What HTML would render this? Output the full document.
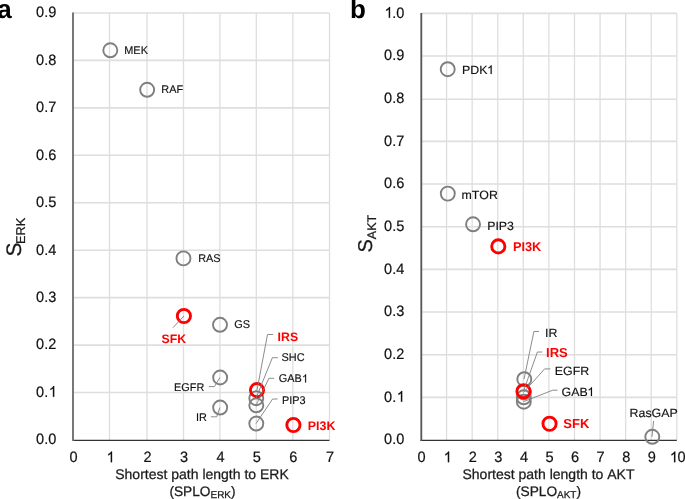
<!DOCTYPE html><html><head><meta charset="utf-8"><style>html,body{margin:0;padding:0;background:#fff;}svg{display:block;will-change:transform;}text{font-family:"Liberation Sans",sans-serif;font-kerning:none;text-rendering:geometricPrecision;}</style></head><body>
<svg width="685" height="499" viewBox="0 0 685 499">
<rect width="685" height="499" fill="#fff"/>
<line x1="73.0" y1="392.55" x2="329.5" y2="392.55" stroke="#dedede" stroke-width="1.6"/>
<line x1="73.0" y1="345.10" x2="329.5" y2="345.10" stroke="#dedede" stroke-width="1.6"/>
<line x1="73.0" y1="297.65" x2="329.5" y2="297.65" stroke="#dedede" stroke-width="1.6"/>
<line x1="73.0" y1="250.20" x2="329.5" y2="250.20" stroke="#dedede" stroke-width="1.6"/>
<line x1="73.0" y1="202.75" x2="329.5" y2="202.75" stroke="#dedede" stroke-width="1.6"/>
<line x1="73.0" y1="155.30" x2="329.5" y2="155.30" stroke="#dedede" stroke-width="1.6"/>
<line x1="73.0" y1="107.85" x2="329.5" y2="107.85" stroke="#dedede" stroke-width="1.6"/>
<line x1="73.0" y1="60.40" x2="329.5" y2="60.40" stroke="#dedede" stroke-width="1.6"/>
<line x1="73.0" y1="12.95" x2="329.5" y2="12.95" stroke="#dedede" stroke-width="1.6"/>
<line x1="109.50" y1="12.95" x2="109.50" y2="440.0" stroke="#dedede" stroke-width="1.3"/>
<line x1="147.00" y1="12.95" x2="147.00" y2="440.0" stroke="#dedede" stroke-width="1.3"/>
<line x1="183.50" y1="12.95" x2="183.50" y2="440.0" stroke="#dedede" stroke-width="1.3"/>
<line x1="219.90" y1="12.95" x2="219.90" y2="440.0" stroke="#dedede" stroke-width="1.3"/>
<line x1="256.30" y1="12.95" x2="256.30" y2="440.0" stroke="#dedede" stroke-width="1.3"/>
<line x1="292.80" y1="12.95" x2="292.80" y2="440.0" stroke="#dedede" stroke-width="1.3"/>
<line x1="329.50" y1="12.95" x2="329.50" y2="440.0" stroke="#dedede" stroke-width="1.3"/>
<line x1="72.5" y1="440.4" x2="329.50" y2="440.4" stroke="#333" stroke-width="1.2"/>
<line x1="73.0" y1="12.45" x2="73.0" y2="440.9" stroke="#777" stroke-width="2.0"/>
<line x1="421.0" y1="397.34" x2="676.8" y2="397.34" stroke="#dedede" stroke-width="1.6"/>
<line x1="421.0" y1="354.68" x2="676.8" y2="354.68" stroke="#dedede" stroke-width="1.6"/>
<line x1="421.0" y1="312.02" x2="676.8" y2="312.02" stroke="#dedede" stroke-width="1.6"/>
<line x1="421.0" y1="269.36" x2="676.8" y2="269.36" stroke="#dedede" stroke-width="1.6"/>
<line x1="421.0" y1="226.70" x2="676.8" y2="226.70" stroke="#dedede" stroke-width="1.6"/>
<line x1="421.0" y1="184.04" x2="676.8" y2="184.04" stroke="#dedede" stroke-width="1.6"/>
<line x1="421.0" y1="141.38" x2="676.8" y2="141.38" stroke="#dedede" stroke-width="1.6"/>
<line x1="421.0" y1="99.30" x2="676.8" y2="99.30" stroke="#dedede" stroke-width="1.6"/>
<line x1="421.0" y1="56.06" x2="676.8" y2="56.06" stroke="#dedede" stroke-width="1.6"/>
<line x1="421.0" y1="13.40" x2="676.8" y2="13.40" stroke="#dedede" stroke-width="1.6"/>
<line x1="446.58" y1="13.40" x2="446.58" y2="440.0" stroke="#dedede" stroke-width="1.3"/>
<line x1="472.16" y1="13.40" x2="472.16" y2="440.0" stroke="#dedede" stroke-width="1.3"/>
<line x1="497.74" y1="13.40" x2="497.74" y2="440.0" stroke="#dedede" stroke-width="1.3"/>
<line x1="523.32" y1="13.40" x2="523.32" y2="440.0" stroke="#dedede" stroke-width="1.3"/>
<line x1="548.90" y1="13.40" x2="548.90" y2="440.0" stroke="#dedede" stroke-width="1.3"/>
<line x1="574.48" y1="13.40" x2="574.48" y2="440.0" stroke="#dedede" stroke-width="1.3"/>
<line x1="600.06" y1="13.40" x2="600.06" y2="440.0" stroke="#dedede" stroke-width="1.3"/>
<line x1="625.64" y1="13.40" x2="625.64" y2="440.0" stroke="#dedede" stroke-width="1.3"/>
<line x1="651.22" y1="13.40" x2="651.22" y2="440.0" stroke="#dedede" stroke-width="1.3"/>
<line x1="676.80" y1="13.40" x2="676.80" y2="440.0" stroke="#dedede" stroke-width="1.3"/>
<line x1="420.5" y1="440.4" x2="676.80" y2="440.4" stroke="#333" stroke-width="1.2"/>
<line x1="421.3" y1="12.90" x2="421.3" y2="440.9" stroke="#555" stroke-width="1.8"/>
<g transform="translate(56.30,444.30) scale(0.97,1.0) translate(-56.30,-444.30)">
<text x="35.45" y="444.30" font-size="15" fill="#111" stroke="#111" stroke-width="0.2">0.0</text>
</g>
<g transform="translate(56.30,396.85) scale(0.97,1.0) translate(-56.30,-396.85)">
<text x="35.45" y="396.85" font-size="15" fill="#111" stroke="#111" stroke-width="0.2">0.</text>
<path d="M763,0 L583,0 L583,1147 Q518,1085 415,1024.5 Q312,964 223,931 L223,1105 Q374,1176 485,1275 Q596,1374 635,1466 L763,1466 Z" fill="#111" stroke="#111" stroke-width="27.3" transform="translate(48.56,396.85) scale(0.007324,-0.007324)"/>
</g>
<g transform="translate(56.30,349.40) scale(0.97,1.0) translate(-56.30,-349.40)">
<text x="35.45" y="349.40" font-size="15" fill="#111" stroke="#111" stroke-width="0.2">0.2</text>
</g>
<g transform="translate(56.30,301.95) scale(0.97,1.0) translate(-56.30,-301.95)">
<text x="35.45" y="301.95" font-size="15" fill="#111" stroke="#111" stroke-width="0.2">0.3</text>
</g>
<g transform="translate(56.30,254.50) scale(0.97,1.0) translate(-56.30,-254.50)">
<text x="35.45" y="254.50" font-size="15" fill="#111" stroke="#111" stroke-width="0.2">0.4</text>
</g>
<g transform="translate(56.30,207.05) scale(0.97,1.0) translate(-56.30,-207.05)">
<text x="35.45" y="207.05" font-size="15" fill="#111" stroke="#111" stroke-width="0.2">0.5</text>
</g>
<g transform="translate(56.30,159.60) scale(0.97,1.0) translate(-56.30,-159.60)">
<text x="35.45" y="159.60" font-size="15" fill="#111" stroke="#111" stroke-width="0.2">0.6</text>
</g>
<g transform="translate(56.30,112.15) scale(0.97,1.0) translate(-56.30,-112.15)">
<text x="35.45" y="112.15" font-size="15" fill="#111" stroke="#111" stroke-width="0.2">0.7</text>
</g>
<g transform="translate(56.30,64.70) scale(0.97,1.0) translate(-56.30,-64.70)">
<text x="35.45" y="64.70" font-size="15" fill="#111" stroke="#111" stroke-width="0.2">0.8</text>
</g>
<g transform="translate(56.30,17.25) scale(0.97,1.0) translate(-56.30,-17.25)">
<text x="35.45" y="17.25" font-size="15" fill="#111" stroke="#111" stroke-width="0.2">0.9</text>
</g>
<g transform="translate(404.30,444.30) scale(0.97,1.0) translate(-404.30,-444.30)">
<text x="383.45" y="444.30" font-size="15" fill="#111" stroke="#111" stroke-width="0.2">0.0</text>
</g>
<g transform="translate(404.30,401.64) scale(0.97,1.0) translate(-404.30,-401.64)">
<text x="383.45" y="401.64" font-size="15" fill="#111" stroke="#111" stroke-width="0.2">0.</text>
<path d="M763,0 L583,0 L583,1147 Q518,1085 415,1024.5 Q312,964 223,931 L223,1105 Q374,1176 485,1275 Q596,1374 635,1466 L763,1466 Z" fill="#111" stroke="#111" stroke-width="27.3" transform="translate(396.56,401.64) scale(0.007324,-0.007324)"/>
</g>
<g transform="translate(404.30,358.98) scale(0.97,1.0) translate(-404.30,-358.98)">
<text x="383.45" y="358.98" font-size="15" fill="#111" stroke="#111" stroke-width="0.2">0.2</text>
</g>
<g transform="translate(404.30,316.32) scale(0.97,1.0) translate(-404.30,-316.32)">
<text x="383.45" y="316.32" font-size="15" fill="#111" stroke="#111" stroke-width="0.2">0.3</text>
</g>
<g transform="translate(404.30,273.66) scale(0.97,1.0) translate(-404.30,-273.66)">
<text x="383.45" y="273.66" font-size="15" fill="#111" stroke="#111" stroke-width="0.2">0.4</text>
</g>
<g transform="translate(404.30,231.00) scale(0.97,1.0) translate(-404.30,-231.00)">
<text x="383.45" y="231.00" font-size="15" fill="#111" stroke="#111" stroke-width="0.2">0.5</text>
</g>
<g transform="translate(404.30,188.34) scale(0.97,1.0) translate(-404.30,-188.34)">
<text x="383.45" y="188.34" font-size="15" fill="#111" stroke="#111" stroke-width="0.2">0.6</text>
</g>
<g transform="translate(404.30,145.68) scale(0.97,1.0) translate(-404.30,-145.68)">
<text x="383.45" y="145.68" font-size="15" fill="#111" stroke="#111" stroke-width="0.2">0.7</text>
</g>
<g transform="translate(404.30,103.02) scale(0.97,1.0) translate(-404.30,-103.02)">
<text x="383.45" y="103.02" font-size="15" fill="#111" stroke="#111" stroke-width="0.2">0.8</text>
</g>
<g transform="translate(404.30,60.36) scale(0.97,1.0) translate(-404.30,-60.36)">
<text x="383.45" y="60.36" font-size="15" fill="#111" stroke="#111" stroke-width="0.2">0.9</text>
</g>
<g transform="translate(404.30,17.70) scale(0.97,1.0) translate(-404.30,-17.70)">
<path d="M763,0 L583,0 L583,1147 Q518,1085 415,1024.5 Q312,964 223,931 L223,1105 Q374,1176 485,1275 Q596,1374 635,1466 L763,1466 Z" fill="#111" stroke="#111" stroke-width="27.3" transform="translate(384.05,17.70) scale(0.007324,-0.007324)"/>
<text x="391.79" y="17.70" font-size="15" fill="#111" stroke="#111" stroke-width="0.2">.0</text>
</g>
<g transform="translate(73.60,462.20) scale(0.97,1.0) translate(-73.60,-462.20)">
<text x="69.43" y="462.20" font-size="15" fill="#111" stroke="#111" stroke-width="0.2">0</text>
</g>
<g transform="translate(110.10,462.20) scale(0.97,1.0) translate(-110.10,-462.20)">
<path d="M763,0 L583,0 L583,1147 Q518,1085 415,1024.5 Q312,964 223,931 L223,1105 Q374,1176 485,1275 Q596,1374 635,1466 L763,1466 Z" fill="#111" stroke="#111" stroke-width="27.3" transform="translate(106.53,462.20) scale(0.007324,-0.007324)"/>
</g>
<g transform="translate(147.60,462.20) scale(0.97,1.0) translate(-147.60,-462.20)">
<text x="143.43" y="462.20" font-size="15" fill="#111" stroke="#111" stroke-width="0.2">2</text>
</g>
<g transform="translate(184.10,462.20) scale(0.97,1.0) translate(-184.10,-462.20)">
<text x="179.93" y="462.20" font-size="15" fill="#111" stroke="#111" stroke-width="0.2">3</text>
</g>
<g transform="translate(220.50,462.20) scale(0.97,1.0) translate(-220.50,-462.20)">
<text x="216.33" y="462.20" font-size="15" fill="#111" stroke="#111" stroke-width="0.2">4</text>
</g>
<g transform="translate(256.90,462.20) scale(0.97,1.0) translate(-256.90,-462.20)">
<text x="252.73" y="462.20" font-size="15" fill="#111" stroke="#111" stroke-width="0.2">5</text>
</g>
<g transform="translate(293.40,462.20) scale(0.97,1.0) translate(-293.40,-462.20)">
<text x="289.23" y="462.20" font-size="15" fill="#111" stroke="#111" stroke-width="0.2">6</text>
</g>
<g transform="translate(330.10,462.20) scale(0.97,1.0) translate(-330.10,-462.20)">
<text x="325.93" y="462.20" font-size="15" fill="#111" stroke="#111" stroke-width="0.2">7</text>
</g>
<g transform="translate(421.60,462.20) scale(0.97,1.0) translate(-421.60,-462.20)">
<text x="417.43" y="462.20" font-size="15" fill="#111" stroke="#111" stroke-width="0.2">0</text>
</g>
<g transform="translate(447.18,462.20) scale(0.97,1.0) translate(-447.18,-462.20)">
<path d="M763,0 L583,0 L583,1147 Q518,1085 415,1024.5 Q312,964 223,931 L223,1105 Q374,1176 485,1275 Q596,1374 635,1466 L763,1466 Z" fill="#111" stroke="#111" stroke-width="27.3" transform="translate(443.61,462.20) scale(0.007324,-0.007324)"/>
</g>
<g transform="translate(472.76,462.20) scale(0.97,1.0) translate(-472.76,-462.20)">
<text x="468.59" y="462.20" font-size="15" fill="#111" stroke="#111" stroke-width="0.2">2</text>
</g>
<g transform="translate(498.34,462.20) scale(0.97,1.0) translate(-498.34,-462.20)">
<text x="494.17" y="462.20" font-size="15" fill="#111" stroke="#111" stroke-width="0.2">3</text>
</g>
<g transform="translate(523.92,462.20) scale(0.97,1.0) translate(-523.92,-462.20)">
<text x="519.75" y="462.20" font-size="15" fill="#111" stroke="#111" stroke-width="0.2">4</text>
</g>
<g transform="translate(549.50,462.20) scale(0.97,1.0) translate(-549.50,-462.20)">
<text x="545.33" y="462.20" font-size="15" fill="#111" stroke="#111" stroke-width="0.2">5</text>
</g>
<g transform="translate(575.08,462.20) scale(0.97,1.0) translate(-575.08,-462.20)">
<text x="570.91" y="462.20" font-size="15" fill="#111" stroke="#111" stroke-width="0.2">6</text>
</g>
<g transform="translate(600.66,462.20) scale(0.97,1.0) translate(-600.66,-462.20)">
<text x="596.49" y="462.20" font-size="15" fill="#111" stroke="#111" stroke-width="0.2">7</text>
</g>
<g transform="translate(626.24,462.20) scale(0.97,1.0) translate(-626.24,-462.20)">
<text x="622.07" y="462.20" font-size="15" fill="#111" stroke="#111" stroke-width="0.2">8</text>
</g>
<g transform="translate(651.82,462.20) scale(0.97,1.0) translate(-651.82,-462.20)">
<text x="647.65" y="462.20" font-size="15" fill="#111" stroke="#111" stroke-width="0.2">9</text>
</g>
<g transform="translate(677.40,462.20) scale(0.97,1.0) translate(-677.40,-462.20)">
<path d="M763,0 L583,0 L583,1147 Q518,1085 415,1024.5 Q312,964 223,931 L223,1105 Q374,1176 485,1275 Q596,1374 635,1466 L763,1466 Z" fill="#111" stroke="#111" stroke-width="27.3" transform="translate(669.66,462.20) scale(0.007324,-0.007324)"/>
<text x="677.40" y="462.20" font-size="15" fill="#111" stroke="#111" stroke-width="0.2">0</text>
</g>
<text x="202" y="479" text-anchor="middle" font-size="14" fill="#1a1a1a" stroke="#1a1a1a" stroke-width="0.25">Shortest path length to ERK</text>
<text x="202.5" y="496" text-anchor="middle" font-size="13.7" fill="#1a1a1a" stroke="#1a1a1a" stroke-width="0.25">(SPLO<tspan font-size="10" dy="2">ERK</tspan><tspan dy="-2">)</tspan></text>
<text x="548.5" y="479" text-anchor="middle" font-size="14" fill="#1a1a1a" stroke="#1a1a1a" stroke-width="0.25">Shortest path length to AKT</text>
<text x="548.5" y="496" text-anchor="middle" font-size="13.7" fill="#1a1a1a" stroke="#1a1a1a" stroke-width="0.25">(SPLO<tspan font-size="10" dy="2">AKT</tspan><tspan dy="-2">)</tspan></text>
<text transform="translate(20.8,256.6) rotate(-90)" font-size="21" fill="#1a1a1a" stroke="#1a1a1a" stroke-width="0.25">S<tspan font-size="12.8" dx="-1.4" dy="4.3">ERK</tspan></text>
<text transform="translate(372.4,252.5) rotate(-90)" font-size="20" fill="#1a1a1a" stroke="#1a1a1a" stroke-width="0.25">S<tspan font-size="12.5" dy="3.5">AKT</tspan></text>
<text x="-2.7" y="17.9" font-size="26" font-weight="bold" fill="#000">a</text>
<text x="350" y="18.2" font-size="26" font-weight="bold" fill="#000">b</text>
<circle cx="110.30" cy="50.3" r="7.0" fill="none" stroke="#7f7f7f" stroke-width="1.9"/>
<g transform="translate(124.30,53.80) scale(1.0,1.03) translate(-124.30,-53.80)">
<text x="124.30" y="53.80" font-size="10.9" fill="#111" stroke="#111" stroke-width="0.15">MEK</text>
</g>
<circle cx="147.15" cy="89.8" r="7.0" fill="none" stroke="#7f7f7f" stroke-width="1.9"/>
<g transform="translate(161.30,93.30) scale(1.0,1.03) translate(-161.30,-93.30)">
<text x="161.30" y="93.30" font-size="10.9" fill="#111" stroke="#111" stroke-width="0.15">RAF</text>
</g>
<circle cx="183.45" cy="258.4" r="7.0" fill="none" stroke="#7f7f7f" stroke-width="1.9"/>
<g transform="translate(198.20,261.60) scale(1.0,1.03) translate(-198.20,-261.60)">
<text x="198.20" y="261.60" font-size="10.9" fill="#111" stroke="#111" stroke-width="0.15">RAS</text>
</g>
<circle cx="220.00" cy="324.8" r="7.0" fill="none" stroke="#7f7f7f" stroke-width="1.9"/>
<g transform="translate(234.20,328.10) scale(1.0,1.03) translate(-234.20,-328.10)">
<text x="234.20" y="328.10" font-size="10.9" fill="#111" stroke="#111" stroke-width="0.15">GS</text>
</g>
<circle cx="220.15" cy="377.5" r="7.0" fill="none" stroke="#7f7f7f" stroke-width="1.9"/>
<g transform="translate(204.30,390.70) scale(1.0,1.03) translate(-204.30,-390.70)">
<text x="174.02" y="390.70" font-size="10.9" fill="#111" stroke="#111" stroke-width="0.15">EGFR</text>
</g>
<circle cx="220.15" cy="407.55" r="7.0" fill="none" stroke="#7f7f7f" stroke-width="1.9"/>
<g transform="translate(206.80,421.30) scale(1.0,1.03) translate(-206.80,-421.30)">
<text x="195.90" y="421.30" font-size="10.9" fill="#111" stroke="#111" stroke-width="0.15">IR</text>
</g>
<circle cx="256.30" cy="398.2" r="7.0" fill="none" stroke="#7f7f7f" stroke-width="1.9"/>
<circle cx="256.30" cy="405.3" r="7.0" fill="none" stroke="#7f7f7f" stroke-width="1.9"/>
<circle cx="256.30" cy="423.55" r="7.0" fill="none" stroke="#7f7f7f" stroke-width="1.9"/>
<circle cx="257" cy="390.1" r="6.6" fill="none" stroke="#ff0000" stroke-width="2.9"/>
<circle cx="293.4" cy="425" r="6.6" fill="none" stroke="#ff0000" stroke-width="2.9"/>
<circle cx="183.9" cy="316" r="6.6" fill="none" stroke="#ff0000" stroke-width="2.9"/>
<path d="M208.8,386.6 L214.4,386.6 L219.85,377.5" fill="none" stroke="#7f7f7f" stroke-width="0.9"/>
<path d="M210.9,416.8 L216.7,416.8 L219.85,407.55" fill="none" stroke="#7f7f7f" stroke-width="0.9"/>
<path d="M173,327.7 L183.9,316" fill="none" stroke="#7f7f7f" stroke-width="0.9"/>
<path d="M273.1,334.5 L267.5,334.5 L257,390.1" fill="none" stroke="#7f7f7f" stroke-width="0.9"/>
<path d="M277.8,357.7 L272.4,357.7 L256,398.2" fill="none" stroke="#7f7f7f" stroke-width="0.9"/>
<path d="M274.1,378.3 L268.9,378.3 L256,405.3" fill="none" stroke="#7f7f7f" stroke-width="0.9"/>
<path d="M277.6,399 L272.6,399 L256,423.55" fill="none" stroke="#7f7f7f" stroke-width="0.9"/>
<g transform="translate(281.50,361.30) scale(1.0,1.03) translate(-281.50,-361.30)">
<text x="281.50" y="361.30" font-size="10.9" fill="#111" stroke="#111" stroke-width="0.15">SHC</text>
</g>
<g transform="translate(278.80,382.40) scale(1.0,1.03) translate(-278.80,-382.40)">
<text x="278.80" y="382.40" font-size="10.9" fill="#111" stroke="#111" stroke-width="0.15">GAB</text>
<path d="M763,0 L583,0 L583,1147 Q518,1085 415,1024.5 Q312,964 223,931 L223,1105 Q374,1176 485,1275 Q596,1374 635,1466 L763,1466 Z" fill="#111" stroke="#111" stroke-width="28.2" transform="translate(302.02,382.40) scale(0.005322,-0.005322)"/>
</g>
<g transform="translate(282.00,403.60) scale(1.0,1.03) translate(-282.00,-403.60)">
<text x="282.00" y="403.60" font-size="10.9" fill="#111" stroke="#111" stroke-width="0.15">PIP3</text>
</g>
<text x="277.6" y="340.6" font-size="12.3" font-weight="bold" fill="#ff0000">IRS</text>
<text x="307.8" y="429.9" font-size="12.4" font-weight="bold" fill="#ff0000">PI3K</text>
<text x="161.6" y="342.5" font-size="12.3" font-weight="bold" fill="#ff0000">SFK</text>
<circle cx="447.70" cy="69.2" r="7.0" fill="none" stroke="#7f7f7f" stroke-width="1.9"/>
<g transform="translate(462.00,73.90) scale(1.03,1.0) translate(-462.00,-73.90)">
<text x="462.00" y="73.90" font-size="12" fill="#111" stroke="#111" stroke-width="0.15">PDK</text>
<path d="M763,0 L583,0 L583,1147 Q518,1085 415,1024.5 Q312,964 223,931 L223,1105 Q374,1176 485,1275 Q596,1374 635,1466 L763,1466 Z" fill="#111" stroke="#111" stroke-width="25.6" transform="translate(486.37,73.90) scale(0.005859,-0.005859)"/>
</g>
<circle cx="447.80" cy="193.6" r="7.0" fill="none" stroke="#7f7f7f" stroke-width="1.9"/>
<g transform="translate(461.50,198.70) scale(1.03,1.0) translate(-461.50,-198.70)">
<text x="461.50" y="198.70" font-size="12" fill="#111" stroke="#111" stroke-width="0.15">mTOR</text>
</g>
<circle cx="473.05" cy="224.3" r="7.0" fill="none" stroke="#7f7f7f" stroke-width="1.9"/>
<g transform="translate(487.20,229.70) scale(1.03,1.0) translate(-487.20,-229.70)">
<text x="487.20" y="229.70" font-size="12" fill="#111" stroke="#111" stroke-width="0.15">PIP3</text>
</g>
<circle cx="524.30" cy="379.2" r="7.0" fill="none" stroke="#7f7f7f" stroke-width="1.9"/>
<circle cx="523.80" cy="392.5" r="7.0" fill="none" stroke="#7f7f7f" stroke-width="1.9"/>
<circle cx="523.80" cy="397.3" r="7.0" fill="none" stroke="#7f7f7f" stroke-width="1.9"/>
<circle cx="523.80" cy="401.7" r="7.0" fill="none" stroke="#7f7f7f" stroke-width="1.9"/>
<circle cx="523.5" cy="391.2" r="6.6" fill="none" stroke="#ff0000" stroke-width="2.9"/>
<circle cx="498.3" cy="246.4" r="6.6" fill="none" stroke="#ff0000" stroke-width="2.9"/>
<circle cx="549.55" cy="423.75" r="6.6" fill="none" stroke="#ff0000" stroke-width="2.9"/>
<circle cx="652.30" cy="436.8" r="7.0" fill="none" stroke="#7f7f7f" stroke-width="1.9"/>
<path d="M539,331.5 L533.9,331.5 L524,379.2" fill="none" stroke="#7f7f7f" stroke-width="0.9"/>
<path d="M542.2,352 L537.4,352 L523.5,391.2" fill="none" stroke="#7f7f7f" stroke-width="0.9"/>
<path d="M550.3,368.9 L544.6,368.9 L523.5,392.5" fill="none" stroke="#7f7f7f" stroke-width="0.9"/>
<path d="M557.5,390.2 L552.7,390.2 L523.5,401.7" fill="none" stroke="#7f7f7f" stroke-width="0.9"/>
<path d="M653.6,421 L652,436.8" fill="none" stroke="#7f7f7f" stroke-width="0.9"/>
<g transform="translate(545.00,337.30) scale(1.03,1.0) translate(-545.00,-337.30)">
<text x="545.00" y="337.30" font-size="12" fill="#111" stroke="#111" stroke-width="0.15">IR</text>
</g>
<g transform="translate(554.80,374.90) scale(1.03,1.0) translate(-554.80,-374.90)">
<text x="554.80" y="374.90" font-size="12" fill="#111" stroke="#111" stroke-width="0.15">EGFR</text>
</g>
<g transform="translate(561.60,395.90) scale(1.03,1.0) translate(-561.60,-395.90)">
<text x="561.60" y="395.90" font-size="12" fill="#111" stroke="#111" stroke-width="0.15">GAB</text>
<path d="M763,0 L583,0 L583,1147 Q518,1085 415,1024.5 Q312,964 223,931 L223,1105 Q374,1176 485,1275 Q596,1374 635,1466 L763,1466 Z" fill="#111" stroke="#111" stroke-width="25.6" transform="translate(586.64,395.90) scale(0.005859,-0.005859)"/>
</g>
<g transform="translate(629.60,417.30) scale(1.03,1.0) translate(-629.60,-417.30)">
<text x="629.60" y="417.30" font-size="12" fill="#111" stroke="#111" stroke-width="0.15">RasGAP</text>
</g>
<text x="546.1" y="357.4" font-size="13" font-weight="bold" fill="#ff0000">IRS</text>
<text x="512.9" y="250.9" font-size="12.8" font-weight="bold" fill="#ff0000">PI3K</text>
<text x="563.3" y="427.9" font-size="13" font-weight="bold" fill="#ff0000">SFK</text>
</svg></body></html>
